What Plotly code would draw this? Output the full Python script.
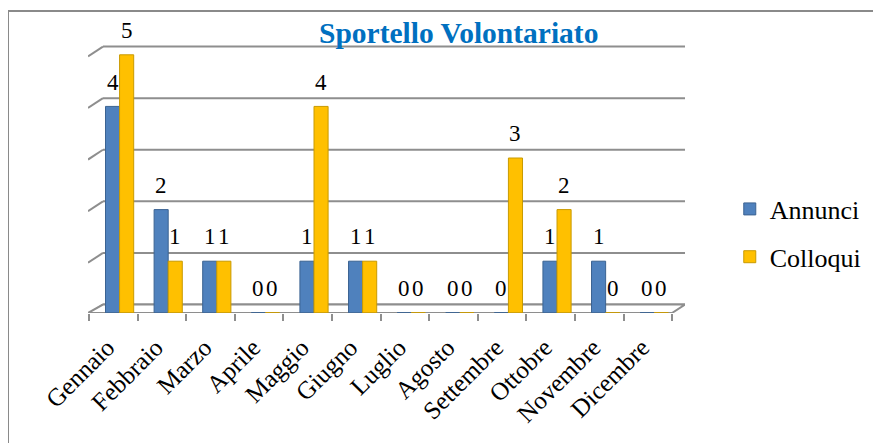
import plotly.graph_objects as go

months = ["Gennaio", "Febbraio", "Marzo", "Aprile", "Maggio", "Giugno",
          "Luglio", "Agosto", "Settembre", "Ottobre", "Novembre", "Dicembre"]
annunci = [4, 2, 1, 0, 1, 1, 0, 0, 0, 1, 1, 0]
colloqui = [5, 1, 1, 0, 4, 1, 0, 0, 3, 2, 0, 0]
grid_levels = [0, 1, 2, 3, 4, 5]

SERIF = "Liberation Serif"
BLUE, BLUE_EDGE = "#4F81BD", "#3B6392"
YEL, YEL_EDGE = "#FFC000", "#C99A00"
GRID = "#8E8E8E"

DEPTH = 0.13      # bars sit half way into the 3-D floor
HALF = 0.145      # half of one bar's width (category units)
BASE = -0.035

idx = list(range(len(months)))
x_a = [i + DEPTH - HALF for i in idx]
x_c = [i + DEPTH + HALF for i in idx]

fig = go.Figure()
fig.add_trace(go.Bar(x=x_a, y=annunci, base=BASE, width=2 * HALF, name="Annunci",
                     legendgroup="a",
                     marker=dict(color=BLUE, line=dict(color=BLUE_EDGE, width=1))))
fig.add_trace(go.Bar(x=x_c, y=colloqui, base=BASE, width=2 * HALF, name="Colloqui",
                     legendgroup="c",
                     marker=dict(color=YEL, line=dict(color=YEL_EDGE, width=1))))

annotations = []
for xs, vals in ((x_a, annunci), (x_c, colloqui)):
    for x, v in zip(xs, vals):
        annotations.append(dict(x=x, y=v, xref="x", yref="y", text=str(v),
                                showarrow=False, yanchor="bottom", yshift=8,
                                font=dict(family=SERIF, size=23, color="black")))

# 3-D style floor, walls and gridlines
XL, XR = -0.52, 11.763        # axis range
XB = -0.212                   # back-wall left edge
XFR = 11.496                  # floor front-right corner
BACK = 0.125                  # back wall offset (value units)
FRONT = -0.039
shapes = []
for g in grid_levels:
    shapes.append(dict(type="line", xref="x", yref="y", x0=XB, x1=XR,
                       y0=g + BACK, y1=g + BACK, line=dict(color=GRID, width=2), layer="below"))
    shapes.append(dict(type="line", xref="x", yref="y", x0=XL, x1=XB,
                       y0=g + BACK - 0.19, y1=g + BACK, line=dict(color=GRID, width=2), layer="below"))
shapes.append(dict(type="path", xref="x", yref="y",
                   path=f"M {XL},{FRONT} L {XFR},{FRONT} L {XR},{BACK} L {XB},{BACK} Z",
                   line=dict(color=GRID, width=2), fillcolor="white", layer="below"))
# outer chart frame
shapes.append(dict(type="rect", xref="paper", yref="paper", x0=-0.134, x1=1.4,
                   y0=-0.6, y1=1.106, line=dict(color="#8A8A8A", width=2), layer="below"))

# the page body has an 8px margin, so figure pixels = page pixels - 8
fig.update_layout(
    width=881, height=443,
    margin=dict(l=80, r=204, t=32, b=138, autoexpand=False),
    font=dict(family=SERIF, color="black"),
    paper_bgcolor="white", plot_bgcolor="rgba(0,0,0,0)",
    barmode="overlay",
    showlegend=True,
    title=dict(text="<b>Sportello Volontariato</b>", x=0.621, xref="paper", xanchor="center",
               y=1 - 25 / 443, yref="container", yanchor="middle",
               font=dict(family=SERIF, size=29.5, color="#0070C0")),
    legend=dict(x=1.075, y=0.293, xanchor="left", yanchor="middle", itemwidth=30,
                font=dict(family=SERIF, size=26, color="black"),
                traceorder="grouped", tracegroupgap=11, bgcolor="rgba(0,0,0,0)"),
    xaxis=dict(range=[XL, XR], tickmode="array", tickvals=idx, ticktext=months,
               tickangle=-45, ticks="", showgrid=False, zeroline=False, showline=False,
               automargin=False, ticklabelstandoff=14, ticklabelshift=-6,
               tickfont=dict(family=SERIF, size=25, color="black"),
               minor=dict(tickmode="array", tickvals=[i - 0.5 for i in range(13)],
                          ticks="outside", ticklen=7, tickcolor=GRID, tickwidth=2)),
    yaxis=dict(range=[FRONT, 5.252], showgrid=False, zeroline=False, showticklabels=False,
               ticks="", showline=False, automargin=False),
    shapes=shapes,
    annotations=annotations,
)

fig.write_html("out.html")
